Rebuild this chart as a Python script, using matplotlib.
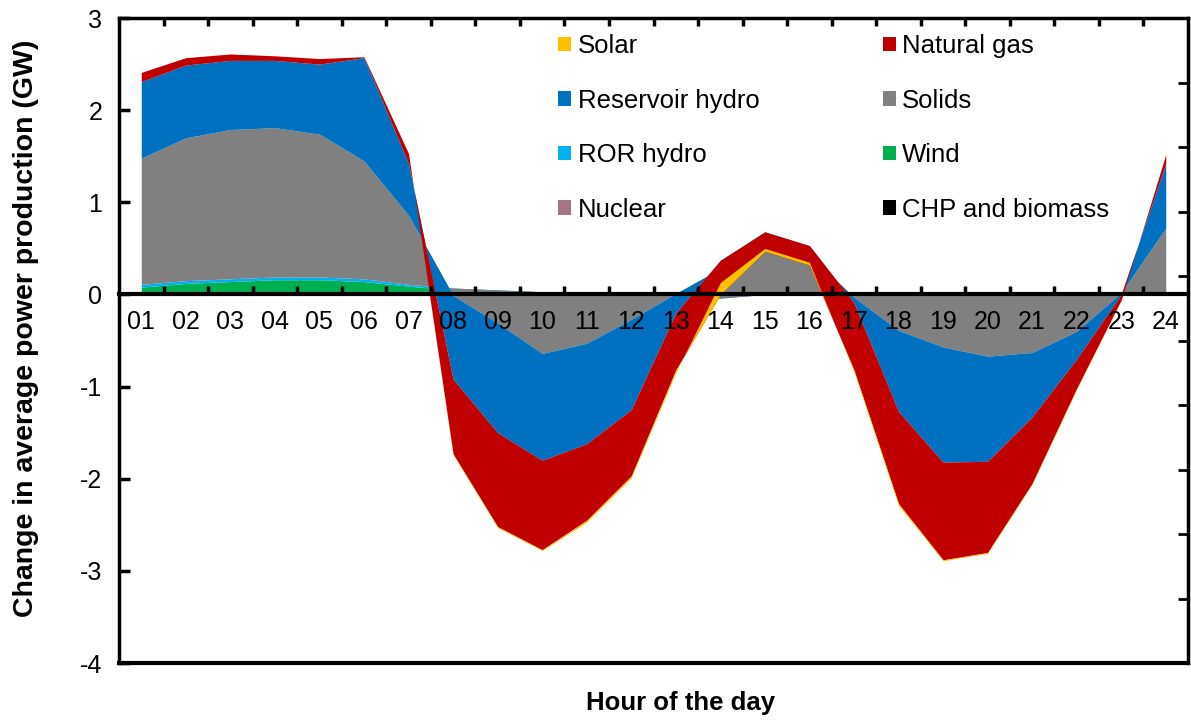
import numpy as np
import matplotlib.pyplot as plt
from matplotlib.patches import Patch
from matplotlib.ticker import FixedLocator

plt.rcParams['font.family'] = ['Liberation Sans', 'DejaVu Sans']

# change in average hourly production (GW) per technology, stacked in this order
hours = np.arange(1, 25)
hour_labels = ['%02d' % h for h in hours]

chp = [0.0] * 24
nuclear = [0.0] * 24
wind = [0.08, 0.12, 0.14, 0.16, 0.16, 0.14, 0.09, 0.05, 0.03, 0.02, 0.01, 0.0,
        0.0, 0.0, 0.0, 0.0, 0.0, 0.0, 0.0, 0.0, 0.0, 0.0, 0.0, 0.02]
ror = [0.03, 0.03, 0.03, 0.03, 0.03, 0.03, 0.02, 0.02, 0.02, 0.01, 0.01, 0.01,
       0.0, -0.04, 0.0, 0.0, 0.0, 0.0, 0.0, 0.0, 0.0, 0.0, 0.0, 0.0]
solids = [1.37, 1.55, 1.62, 1.62, 1.55, 1.28, 0.75, -0.08, -0.36, -0.67, -0.55, -0.28,
          0.01, 0.32, 0.47, 0.43, -0.03, -0.39, -0.57, -0.67, -0.63, -0.40, 0.02, 0.70]
reservoir = [0.83, 0.79, 0.75, 0.73, 0.76, 1.12, 0.56, -0.91, -1.19, -1.16, -1.09, -0.98,
             -0.21, 0.09, 0.21, 0.10, -0.06, -0.88, -1.25, -1.14, -0.70, -0.30, -0.02, 0.70]
gas = [0.10, 0.08, 0.07, 0.05, 0.06, 0.01, 0.11, -0.81, -1.02, -0.97, -0.83, -0.72,
       -0.62, -0.37, -0.21, -0.21, -0.73, -1.00, -1.06, -0.99, -0.72, -0.32, -0.06, 0.10]
solar = [0.0, 0.0, 0.0, 0.0, 0.0, 0.0, 0.0, -0.01, -0.01, -0.01, -0.02, -0.02,
         -0.03, 0.13, 0.03, 0.03, -0.02, -0.02, -0.01, -0.01, -0.01, -0.01, 0.0, 0.0]

series = [
    ('CHP and biomass', chp, '#000000'),
    ('Nuclear', nuclear, '#A57583'),
    ('Wind', wind, '#00B050'),
    ('ROR hydro', ror, '#00B0F0'),
    ('Solids', solids, '#808080'),
    ('Reservoir hydro', reservoir, '#0070C0'),
    ('Natural gas', gas, '#C00000'),
    ('Solar', solar, '#FFC000'),
]

fig = plt.figure(figsize=(11.91, 7.21), dpi=100)
ax = fig.add_axes([0.0999, 0.0804, 0.8976, 0.8946])
ax.set_axisbelow(False)

# stacked areas: each band runs from the previous running total to the new one
base = np.zeros(24)
for name, vals, col in series:
    top = base + np.array(vals)
    ax.fill_between(hours, base, top, color=col, lw=0, zorder=2)
    base = top

ax.set_xlim(0.5, 24.5)
ax.set_ylim(-4, 3)

# category axis sits on the zero line, tick marks between categories
ax.spines['bottom'].set_position(('data', 0))
ax.spines['bottom'].set_linewidth(3)
for s in ['left', 'top', 'right']:
    ax.spines[s].set_linewidth(2.5)
ax.axhline(-4, color='k', lw=3, clip_on=False, zorder=5)

ax.set_xticks(hours)
ax.set_xticklabels(hour_labels, fontsize=18)
ax.xaxis.set_minor_locator(FixedLocator(np.arange(1.5, 24, 1)))
ax.tick_params(axis='x', which='major', length=0, pad=11)
ax.tick_params(axis='x', which='minor', direction='in', length=6, width=2.5,
               top=True, bottom=True)

ax.set_yticks(np.arange(-4, 4, 1))
ax.set_yticklabels([str(v) for v in range(-4, 4)], fontsize=18)
ax.tick_params(axis='y', direction='in', length=8, width=2.5, pad=12)

# unlabelled secondary scale on the right edge
ax2 = ax.twinx()
ax2.set_ylim(0, 10)
ax2.set_yticks(np.arange(0, 11, 1))
ax2.set_yticklabels([])
ax2.tick_params(axis='y', direction='in', length=7, width=2)
for s in ax2.spines.values():
    s.set_visible(False)

fig.text(26 / 1191, 1 - 328 / 721, 'Change in average power production (GW)',
         fontsize=20.5, fontweight='bold', rotation=90, ha='center', va='center')
fig.text(681 / 1191, 1 - 703 / 721, 'Hour of the day', fontsize=18.5,
         fontweight='bold', ha='center', va='center')

lookup = {name: col for name, vals, col in series}
order = ['Solar', 'Reservoir hydro', 'ROR hydro', 'Nuclear',
         'Natural gas', 'Solids', 'Wind', 'CHP and biomass']
handles = [Patch(facecolor=lookup[n], edgecolor='none', label=n) for n in order]
ax.legend(handles=handles, ncol=2, loc='upper left', bbox_to_anchor=(0.399, 0.995),
          frameon=False, fontsize=18.5, handlelength=0.5, handleheight=0.5,
          handletextpad=0.25, labelspacing=1.19, columnspacing=4.8, borderpad=0)

fig.savefig('out.png', dpi=100)
